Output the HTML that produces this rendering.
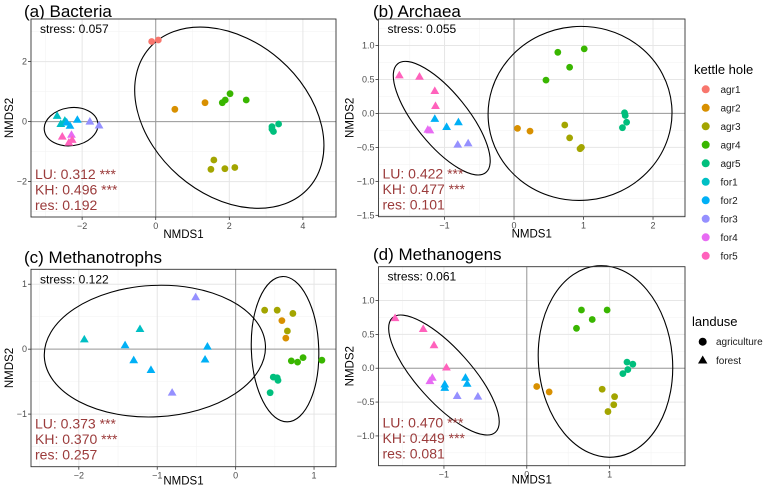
<!DOCTYPE html>
<html><head><meta charset="utf-8"><style>
body{margin:0;background:#fff;}
svg{display:block;font-family:"Liberation Sans",Arial,sans-serif;}
</style></head><body>
<svg id="fig" width="764" height="489" viewBox="0 0 764 489" xmlns="http://www.w3.org/2000/svg"></svg>
<script>
const groups=["agr1","agr2","agr3","agr4","agr5","for1","for2","for3","for4","for5"];
const colors=["#F8766D","#D89000","#A3A500","#39B600","#00BF7D","#00BFC4","#00B0F6","#9590FF","#E76BF3","#FF62BC"];
// panel a
const aGroup=["agr1","agr1","agr2","agr2","agr4","agr4","agr4","agr4","agr5","agr5","agr5","agr5","agr3","agr3","agr3","agr3","for1","for1","for1","for2","for2","for2","for3","for3","for5","for4","for5","for5"];
const aX=[-0.11,0.07,0.52,1.34,1.81,1.89,2.02,2.46,3.16,3.2,3.34,3.16,1.58,1.50,1.88,2.15,-2.68,-2.58,-2.47,-2.33,-2.13,-2.42,-1.79,-1.54,-2.54,-2.29,-2.27,-2.36];
const aY=[2.67,2.72,0.41,0.63,0.63,0.72,0.93,0.72,-0.17,-0.33,-0.08,-0.25,-1.28,-1.59,-1.57,-1.53,0.19,-0.08,0.03,-0.14,0.06,-0.03,0,-0.13,-0.5,-0.44,-0.61,-0.7];
// panel b
const bGroup=["agr4","agr4","agr4","agr4","agr5","agr5","agr5","agr5","agr2","agr2","agr3","agr3","agr3","agr3","for5","for5","for5","for5","for2","for2","for2","for4","for4","for3","for3"];
const bX=[0.63,1.01,0.80,0.46,1.59,1.60,1.62,1.56,0.05,0.23,0.73,0.80,0.95,0.97,-1.65,-1.36,-1.14,-1.13,-1.14,-0.97,-0.80,-1.24,-1.21,-0.81,-0.66];
const bY=[0.90,0.95,0.68,0.49,0.01,-0.03,-0.13,-0.21,-0.22,-0.26,-0.17,-0.36,-0.52,-0.50,0.56,0.54,0.33,0.11,-0.08,-0.20,-0.13,-0.24,-0.25,-0.46,-0.44];
// panel c
const cGroup=["for1","for1","for2","for2","for2","for2","for2","for3","for3","agr3","agr3","agr3","agr3","agr2","agr2","agr4","agr4","agr4","agr4","agr5","agr5","agr5","agr5"];
const cX=[-1.93,-1.22,-1.41,-1.30,-1.08,-0.36,-0.39,-0.51,-0.81,0.37,0.53,0.73,0.66,0.59,0.64,0.71,0.79,0.86,1.10,0.48,0.53,0.54,0.44];
const cY=[0.15,0.31,0.06,-0.17,-0.32,0.04,-0.16,0.80,-0.67,0.60,0.60,0.55,0.28,0.44,0.17,-0.18,-0.20,-0.13,-0.17,-0.43,-0.44,-0.48,-0.67];
// panel d
const dGroup=["agr4","agr4","agr4","agr4","agr5","agr5","agr5","agr5","agr2","agr2","agr3","agr3","agr3","agr3","for5","for5","for5","for5","for4","for4","for2","for2","for2","for2","for3","for3"];
const dX=[0.66,0.97,0.79,0.60,1.21,1.28,1.22,1.16,0.12,0.27,0.91,1.06,1.05,0.98,-1.59,-1.25,-1.12,-0.97,-1.14,-1.17,-0.99,-0.99,-0.74,-0.72,-0.84,-0.59];
const dY=[0.86,0.86,0.72,0.59,0.09,0.06,-0.02,-0.08,-0.27,-0.35,-0.31,-0.42,-0.54,-0.64,0.74,0.58,0.34,0.01,-0.14,-0.19,-0.24,-0.29,-0.14,-0.23,-0.41,-0.42];
const aXTicks=[-2,0,2,4], aYTicks=[-2,0,2];
const bXTicks=[-1,0,1,2], bYTicks=[-1.5,-1,-0.5,0,0.5,1];
const cXTicks=[-2,-1,0,1], cYTicks=[-1,0,1];
const dXTicks=[-1,0,1], dYTicks=[-1,-0.5,0,0.5,1];

const NS="http://www.w3.org/2000/svg";
const svg=document.getElementById('fig');
function mk(tag,attrs,parent,text){const e=document.createElementNS(NS,tag);for(const k in attrs)e.setAttribute(k,attrs[k]);if(text!==undefined)e.textContent=text;(parent||svg).appendChild(e);return e;}

const panels=[
 {id:"a",title:"(a) Bacteria",stress:"0.057",stats:["LU: 0.312 ***","KH: 0.496 ***","res: 0.192"],L:31,R:336,T:19,B:217,xmin:-3.39,xmax:4.9,ymin:-3.18,ymax:3.42,xt:aXTicks,yt:aYTicks,dec:0,G:aGroup,X:aX,Y:aY,tx:24,ty:17,xlab:21,
  ell:[{cx:2.0,cy:0.13,rx:106,ry:77,rot:41},{cx:-2.3,cy:-0.17,rx:27,ry:19,rot:-8}]},
 {id:"b",title:"(b) Archaea",stress:"0.055",stats:["LU: 0.422 ***","KH: 0.477 ***","res: 0.101"],L:378.5,R:685,T:19,B:216.7,xmin:-1.95,xmax:2.46,ymin:-1.52,ymax:1.39,xt:bXTicks,yt:bYTicks,dec:1,G:bGroup,X:bX,Y:bY,tx:373,ty:17,xlab:21,
  ell:[{cx:0.95,cy:0,rx:92,ry:87,rot:-5},{cx:-1.04,cy:-0.07,rx:70,ry:26,rot:51}]},
 {id:"c",title:"(c) Methanotrophs",stress:"0.122",stats:["LU: 0.373 ***","KH: 0.370 ***","res: 0.257"],L:31,R:336,T:269.3,B:466.7,xmin:-2.61,xmax:1.28,ymin:-1.81,ymax:1.23,xt:cXTicks,yt:cYTicks,dec:0,G:cGroup,X:cX,Y:cY,tx:24,ty:263,xlab:18,
  ell:[{cx:-1.03,cy:-0.03,rx:110.7,ry:65.7,rot:-3},{cx:0.63,cy:0.0,rx:33.7,ry:72.7,rot:-2}]},
 {id:"d",title:"(d) Methanogens",stress:"0.061",stats:["LU: 0.470 ***","KH: 0.449 ***","res: 0.081"],L:378.5,R:685,T:266.7,B:465.7,xmin:-1.79,xmax:1.91,ymin:-1.44,ymax:1.50,xt:dXTicks,yt:dYTicks,dec:1,G:dGroup,X:dX,Y:dY,tx:373,ty:260,xlab:18,
  ell:[{cx:0.95,cy:0.1,rx:67,ry:96,rot:-5},{cx:-1.0,cy:-0.1,rx:77,ry:27,rot:48}]}
];

function fmt(v,dec){const s=v.toFixed(dec);return s.replace("-","\u2212");}

panels.forEach(p=>{
  const g=mk('g',{});
  
  
  const sx=v=>p.L+(v-p.xmin)/(p.xmax-p.xmin)*(p.R-p.L);
  const sy=v=>p.B-(v-p.ymin)/(p.ymax-p.ymin)*(p.B-p.T);
  const title=mk('text',{x:p.tx,y:p.ty,'font-size':17,fill:'#000'},g,p.title);
  
  
  mk('rect',{x:p.L,y:p.T,width:p.R-p.L,height:p.B-p.T,fill:'#fff'},g);
  const xs=p.xt[1]-p.xt[0], ys=p.yt[1]-p.yt[0];
  for(let v=p.xt[0]-xs/2;v<=p.xmax;v+=xs){if(v>=p.xmin)mk('line',{x1:sx(v),x2:sx(v),y1:p.T,y2:p.B,stroke:'#f3f3f3','stroke-width':0.6},g);}
  for(let v=p.yt[0]-ys/2;v<=p.ymax;v+=ys){if(v>=p.ymin)mk('line',{y1:sy(v),y2:sy(v),x1:p.L,x2:p.R,stroke:'#f3f3f3','stroke-width':0.6},g);}
  p.xt.forEach(v=>{mk('line',{x1:sx(v),x2:sx(v),y1:p.T,y2:p.B,stroke:'#e6e6e6','stroke-width':1},g);
    mk('line',{x1:sx(v),x2:sx(v),y1:p.B,y2:p.B+3,stroke:'#333','stroke-width':0.8},g);
    const t=mk('text',{x:sx(v),y:p.B+12,'font-size':9,fill:'#4d4d4d','text-anchor':'middle'},g,fmt(v,0));
    
    });
  p.yt.forEach(v=>{mk('line',{y1:sy(v),y2:sy(v),x1:p.L,x2:p.R,stroke:'#e6e6e6','stroke-width':1},g);
    mk('line',{y1:sy(v),y2:sy(v),x1:p.L-3,x2:p.L,stroke:'#333','stroke-width':0.8},g);
    const t=mk('text',{x:p.L-4,y:sy(v)+3,'font-size':9,fill:'#4d4d4d','text-anchor':'end'},g,fmt(v,p.dec));
    
    });
  mk('line',{x1:sx(0),x2:sx(0),y1:p.T,y2:p.B,stroke:'#9a9a9a','stroke-width':1},g);
  mk('line',{y1:sy(0),y2:sy(0),x1:p.L,x2:p.R,stroke:'#9a9a9a','stroke-width':1},g);
  p.ell.forEach((e,i)=>{const el=mk('ellipse',{cx:sx(e.cx),cy:sy(e.cy),rx:e.rx,ry:e.ry,fill:'none',stroke:'#000','stroke-width':1.1,transform:`rotate(${e.rot} ${sx(e.cx)} ${sy(e.cy)})`},g);
    
    });
  p.X.forEach((xv,i)=>{const grp=p.G[i];const col=colors[groups.indexOf(grp)];const px=sx(xv),py=sy(p.Y[i]);
    let m;
    if(grp.startsWith('agr')) m=mk('circle',{cx:px,cy:py,r:3.4,fill:col},g);
    else m=mk('polygon',{points:`${px},${py-4.6} ${px-4.4},${py+3} ${px+4.4},${py+3}`,fill:col},g);
    
    });
  mk('rect',{x:p.L,y:p.T,width:p.R-p.L,height:p.B-p.T,fill:'none',stroke:'#333','stroke-width':0.9},g);
  const st=mk('text',{x:p.L+9,y:p.T+14,'font-size':12,fill:'#000'},g,'stress: '+p.stress);
  
  
  p.stats.forEach((s,i)=>{const t=mk('text',{x:p.L+4,y:p.B-38+i*15.5,'font-size':14,fill:'#9b3b3b'},g,s);
    
    });
  const xt=mk('text',{x:(p.L+p.R)/2,y:p.B+p.xlab,'font-size':11.5,fill:'#000','text-anchor':'middle'},g,'NMDS1');
  
  
  const yx=p.L-(p.dec?25:18), yy=(p.T+p.B)/2;
  const yt=mk('text',{x:yx,y:yy,'font-size':11.5,fill:'#000','text-anchor':'middle',transform:`rotate(-90 ${yx} ${yy})`},g,'NMDS2');
  
  
});

const lg=mk('g',{});


mk('text',{x:694,y:74,'font-size':13,fill:'#000'},lg,'kettle hole');
groups.forEach((gname,i)=>{const y=89.3+i*18.5;
  const c=mk('circle',{cx:705.7,cy:y,r:4,fill:colors[i]},lg);
  
  
  const t=mk('text',{x:720.5,y:y+3.5,'font-size':10,fill:'#1a1a1a'},lg,gname);
  
  });
const lg2=mk('g',{});


mk('text',{x:692,y:326,'font-size':13,fill:'#000'},lg2,'landuse');
const c1=mk('circle',{cx:702.7,cy:341.7,r:4,fill:'#000'},lg2);


const t1=mk('text',{x:716,y:345,'font-size':10,fill:'#1a1a1a'},lg2,'agriculture');


const tr=mk('polygon',{points:'702.7,355.5 698,363.5 707.4,363.5',fill:'#000'},lg2);


const t2=mk('text',{x:716,y:364,'font-size':10,fill:'#1a1a1a'},lg2,'forest');


</script>
</body></html>
